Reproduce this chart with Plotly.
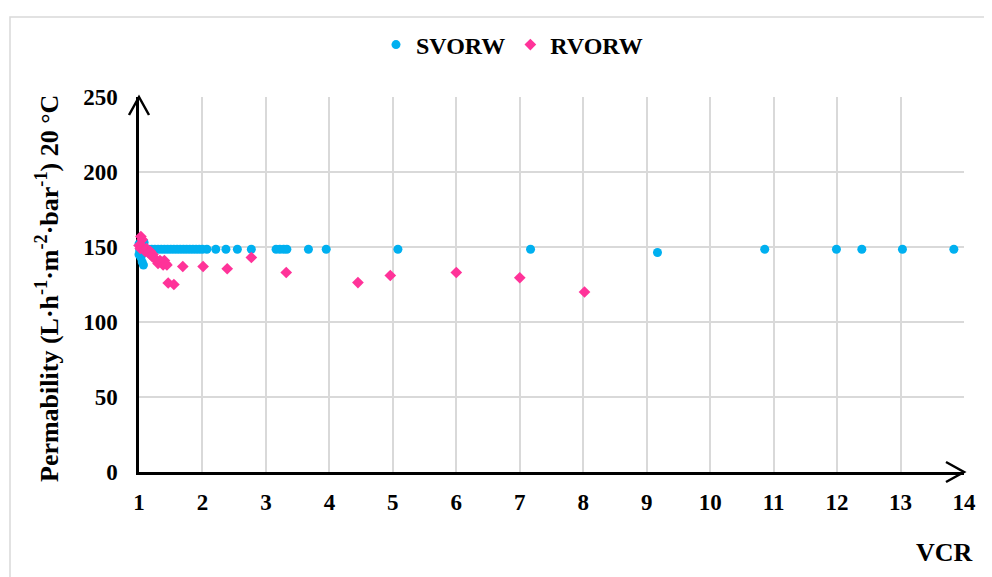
import plotly.graph_objects as go

# SVORW series
svorw_x = [1.00, 1.01, 1.00, 1.02, 1.03, 1.05, 1.07, 1.04, 1.08, 1.06,
           1.10, 1.15, 1.20, 1.25, 1.30, 1.35, 1.40, 1.45, 1.50, 1.55,
           1.60, 1.65, 1.70, 1.75, 1.80, 1.85, 1.90, 1.95, 2.00, 2.07,
           2.21, 2.37, 2.55, 2.77, 3.16, 3.22, 3.28, 3.33, 3.67, 3.95,
           5.08, 7.17, 9.17, 10.86, 11.99, 12.39, 13.03, 13.84]
svorw_y = [152, 148, 145, 150, 143, 140, 138, 147, 153, 146,
           148.5, 148.5, 148.5, 148.5, 148.5, 148.5, 148.5, 148.5, 148.5, 148.5,
           148.5, 148.5, 148.5, 148.5, 148.5, 148.5, 148.5, 148.5, 148.5, 148.5,
           148.5, 148.5, 148.5, 148.5, 148.5, 148.5, 148.5, 148.5, 148.5, 148.5,
           148.5, 148.5, 146.3, 148.5, 148.5, 148.5, 148.5, 148.5]

# RVORW series
rvorw_x = [1.00, 1.03, 1.05, 1.02, 1.06, 1.08, 1.10, 1.12, 1.15, 1.18,
           1.20, 1.22, 1.25, 1.28, 1.30, 1.33, 1.36, 1.38, 1.40, 1.42,
           1.44, 1.46, 1.55, 1.69, 2.01, 2.39, 2.77, 3.32, 4.45, 4.96,
           6.00, 7.00, 8.02]
rvorw_y = [151, 157, 155, 149, 150, 148, 147, 149, 146, 147,
           144, 145, 142, 141, 139, 141, 140, 138, 141, 139,
           138, 126, 125, 137, 137, 135.5, 143, 133, 126.3, 131,
           133, 129.5, 120]

x_ticks = list(range(1, 15))
y_ticks = [0, 50, 100, 150, 200, 250]

FONT = "Liberation Serif"
OFF = 8  # page body offset
L, R, T, B = 139 - OFF, 36, 97 - OFF, 577 - (472 - OFF)
PW, PH = 825, 375

def px_to_paper(px, py):
    return (px - 139) / PW, (472 - py) / PH

fig = go.Figure()
fig.add_trace(go.Scatter(
    x=svorw_x, y=svorw_y, mode="markers", name="SVORW",
    marker=dict(symbol="circle", size=9, color="#00B0F0"),
    cliponaxis=False))
fig.add_trace(go.Scatter(
    x=rvorw_x, y=rvorw_y, mode="markers", name="RVORW",
    marker=dict(symbol="diamond", size=9, color="#FF3399"),
    cliponaxis=False))

tickfont = dict(family=FONT, size=23, color="black", weight="bold")

lx, ly = px_to_paper(512, 45)
fig.update_layout(
    width=992, height=577,
    margin=dict(l=L, r=R, t=T, b=B),
    paper_bgcolor="white", plot_bgcolor="white",
    font=dict(family=FONT, color="black"),
    showlegend=True,
    legend=dict(orientation="h", x=lx, y=ly, xanchor="center", yanchor="middle",
                font=dict(family=FONT, size=24, color="black", weight="bold"),
                bgcolor="rgba(0,0,0,0)"),
    xaxis=dict(range=[1, 14], tickvals=x_ticks, ticktext=[str(v) for v in x_ticks],
               showgrid=True, gridcolor="#D9D9D9", gridwidth=1.5,
               zeroline=False, showline=True, linecolor="black", linewidth=2.5,
               ticks="", tickfont=tickfont, ticklabelstandoff=8,
               layer="below traces"),
    yaxis=dict(range=[0, 250], tickvals=y_ticks, ticktext=[str(v) for v in y_ticks],
               showgrid=True, gridcolor="#D9D9D9", gridwidth=1.5,
               zeroline=False, showline=True, linecolor="black", linewidth=2.5,
               ticks="", tickfont=tickfont, ticklabelstandoff=14,
               layer="below traces"),
)

# y-axis title
tx, ty = px_to_paper(47, 289)
fig.add_annotation(
    xref="paper", yref="paper", x=tx, y=ty,
    text="Permability (L·h<sup>-1</sup>·m<sup>-2</sup>·bar<sup>-1</sup>) 20 °C",
    textangle=-90, showarrow=False, xanchor="center", yanchor="middle",
    font=dict(family=FONT, size=26, color="black", weight="bold"))

# x-axis title
vx, vy = px_to_paper(975, 552)
fig.add_annotation(
    xref="paper", yref="paper", x=vx, y=vy,
    text="VCR", showarrow=False, xanchor="right", yanchor="middle",
    font=dict(family=FONT, size=26, color="black", weight="bold"))

# arrow heads (paper-referenced so they are not clipped)
fig.add_shape(type="path", xref="paper", yref="paper", xsizemode="pixel", ysizemode="pixel",
              xanchor=1, yanchor=0, path="M -18 10 L 0 0 L -18 -10",
              line=dict(color="black", width=2.5))
fig.add_shape(type="path", xref="paper", yref="paper", xsizemode="pixel", ysizemode="pixel",
              xanchor=0, yanchor=1, path="M -10 -18 L 0 0 L 10 -18",
              line=dict(color="black", width=2.5))

# outer frame
fx0, fy1 = px_to_paper(10, 17)
fig.add_shape(type="rect", xref="paper", yref="paper",
              x0=fx0, x1=1.2, y0=-0.4, y1=fy1,
              line=dict(color="#D9D9D9", width=1.5), fillcolor="rgba(0,0,0,0)")

fig.write_html("out.html")
